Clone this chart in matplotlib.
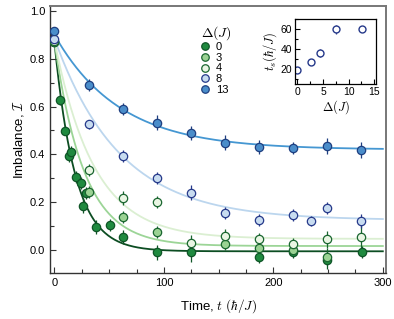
import numpy as np
import matplotlib
matplotlib.use("Agg")
import matplotlib.pyplot as plt
from matplotlib.ticker import MultipleLocator

plt.rcParams['font.family'] = ['Liberation Sans', 'DejaVu Sans']
plt.rcParams['mathtext.fontset'] = 'cm'

# donnees
deltas = ['0', '3', '4', '8', '13']

t_d0 = [0, 5.5, 10, 13, 15, 19.5, 24, 26, 28.5, 38, 50.5, 62.5, 94, 125, 187, 218, 249, 281]
I_d0 = [0.868, 0.628, 0.499, 0.392, 0.411, 0.306, 0.280, 0.186, 0.240, 0.096, 0.104, 0.056,
        -0.010, -0.010, -0.028, -0.010, -0.042, -0.007]
e_d0 = [0.01, 0.02, 0.02, 0.025, 0.025, 0.025, 0.025, 0.03, 0.025, 0.03, 0.025, 0.03,
        0.03, 0.04, 0.025, 0.025, 0.035, 0.025]

t_d3 = [0, 32, 63, 94, 156, 187, 218, 249]
I_d3 = [0.870, 0.242, 0.139, 0.075, 0.024, 0.007, 0.000, -0.028]
e_d3 = [0.01, 0.025, 0.025, 0.025, 0.025, 0.025, 0.025, 0.035]

t_d4 = [0, 32, 63, 94, 125, 156, 187, 218, 249, 280]
I_d4 = [0.872, 0.336, 0.218, 0.201, 0.030, 0.060, 0.045, 0.024, 0.045, 0.053]
e_d4 = [0.01, 0.025, 0.03, 0.025, 0.035, 0.03, 0.025, 0.025, 0.035, 0.05]

t_d8 = [0, 32, 63, 94, 125, 156, 187, 218, 234, 249, 280]
I_d8 = [0.884, 0.525, 0.395, 0.301, 0.240, 0.156, 0.125, 0.146, 0.121, 0.174, 0.121]
e_d8 = [0.01, 0.02, 0.025, 0.025, 0.03, 0.025, 0.025, 0.025, 0.02, 0.025, 0.03]

t_d13 = [0, 32, 63, 94, 125, 156, 187, 218, 249, 280]
I_d13 = [0.914, 0.692, 0.589, 0.533, 0.489, 0.449, 0.430, 0.426, 0.435, 0.418]
e_d13 = [0.01, 0.025, 0.025, 0.03, 0.03, 0.03, 0.03, 0.025, 0.035, 0.035]

# parametres des ajustements exponentiels: I = A + B exp(-t/ts)
fit_A = [-0.005, 0.017, 0.047, 0.125, 0.42]
fit_B = [0.875, 0.855, 0.83, 0.76, 0.48]
fit_ts = [19, 27, 36, 59.5, 59.5]

# encart
delta_in = [0, 2.6, 4.5, 7.6, 12.6]
ts_in = [19, 27, 36, 59.5, 59.5]
ts_err = [1.5, 2, 4, 4.5, 1.5]

series = [(t_d0, I_d0, e_d0), (t_d3, I_d3, e_d3), (t_d4, I_d4, e_d4),
          (t_d8, I_d8, e_d8), (t_d13, I_d13, e_d13)]
fills = ['#1f8a3f', '#9ad293', '#eaf6e4', '#c8dcf0', '#4a8dca']
edges = ['#0f5527', '#1a6630', '#1a6630', '#26398a', '#1f3f80']
lines = ['#0c4d22', '#9cd597', '#dbefd2', '#bcd6ee', '#4597d2']

fig = plt.figure(figsize=(3.94, 3.19), dpi=100)
ax = fig.add_axes([0.127, 0.144, 0.853, 0.837])

tt = np.linspace(0, 300, 300)
for k in range(5):
    ax.plot(tt, fit_A[k] + fit_B[k] * np.exp(-tt / fit_ts[k]), color=lines[k], lw=1.3, zorder=1)

for k in range(5):
    t, I, e = series[k]
    ax.errorbar(t, I, yerr=e, fmt='none', ecolor=edges[k], elinewidth=0.9, capsize=0, zorder=2)
    ax.plot(t, I, 'o', ms=6, mfc=fills[k], mec=edges[k], mew=0.9, zorder=3, label=deltas[k])

ax.set_xlim(-4, 303)
ax.set_ylim(-0.096, 1.02)
ax.xaxis.set_major_locator(MultipleLocator(100))
ax.xaxis.set_minor_locator(MultipleLocator(25))
ax.yaxis.set_major_locator(MultipleLocator(0.2))
ax.yaxis.set_minor_locator(MultipleLocator(0.1))
ax.tick_params(which='both', direction='in', labelsize=8, width=0.8, color='#333333')
ax.tick_params(which='major', length=4.5)
ax.tick_params(which='minor', length=3)
ax.set_yticks([0, 0.2, 0.4, 0.6, 0.8, 1.0])
ax.set_yticklabels(['0.0', '0.2', '0.4', '0.6', '0.8', '1.0'])
for s in ['left', 'bottom']:
    ax.spines[s].set_color('#333333')
    ax.spines[s].set_linewidth(1.0)
for s in ['top', 'right']:
    ax.spines[s].set_color('#777777')
    ax.spines[s].set_linewidth(1.4)

ax.set_xlabel(r'Time, $t\ (\hbar/J)$', fontsize=9.5, labelpad=7)
ax.set_ylabel(r'Imbalance, $\mathcal{I}$', fontsize=9.5, labelpad=3)

leg = ax.legend(loc='upper left', bbox_to_anchor=(0.43, 0.958), frameon=False,
                title=r'$\Delta(J)$', fontsize=8, title_fontsize=10,
                handlelength=0.6, handletextpad=0.7, labelspacing=0.05,
                borderpad=0.1, markerscale=0.9)
leg._legend_box.align = 'left'

# encart
axi = fig.add_axes([0.749, 0.737, 0.206, 0.204])
axi.errorbar(delta_in, ts_in, yerr=ts_err, fmt='o', ms=5, mfc='white', mec='#26398a',
             mew=1.0, ecolor='#26398a', elinewidth=0.9, capsize=0)
axi.set_xlim(-0.45, 15.4)
axi.set_ylim(5, 70)
axi.xaxis.set_major_locator(MultipleLocator(5))
axi.xaxis.set_minor_locator(MultipleLocator(2.5))
axi.yaxis.set_major_locator(MultipleLocator(20))
axi.yaxis.set_minor_locator(MultipleLocator(10))
axi.tick_params(which='both', direction='in', labelsize=7.5, width=0.8, pad=2)
axi.tick_params(which='major', length=3.5)
axi.tick_params(which='minor', length=2)
for s in axi.spines.values():
    s.set_linewidth(0.9)
axi.set_xlabel(r'$\Delta(J)$', fontsize=9, labelpad=1)
axi.set_ylabel(r'$t_s(\hbar/J)$', fontsize=9, labelpad=1)

fig.savefig('out.png', dpi=100)
